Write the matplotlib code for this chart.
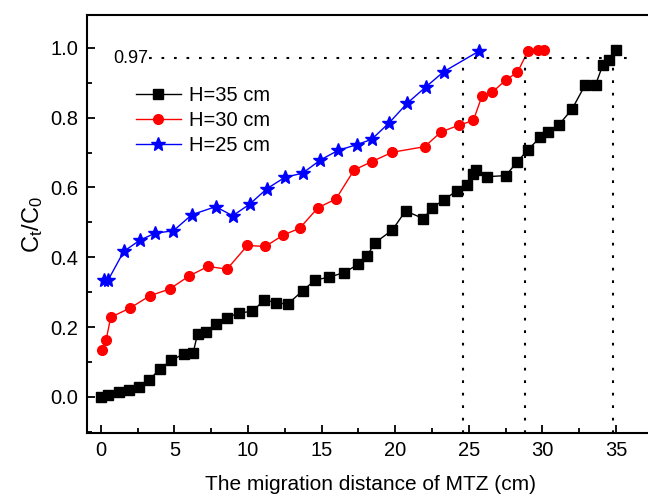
import numpy as np
import matplotlib
matplotlib.use('Agg')
import matplotlib.pyplot as plt
from matplotlib.ticker import MultipleLocator

plt.rcParams['font.family'] = ['Liberation Sans', 'DejaVu Sans']
plt.rcParams['mathtext.default'] = 'regular'

# H = 35 cm
x35 = [0.0, 0.5, 1.24, 1.9, 2.6, 3.3, 4.0, 4.8, 5.66, 6.27, 6.57, 7.15, 7.8, 8.6, 9.4,
       10.3, 11.1, 11.9, 12.7, 13.7, 14.56, 15.5, 16.5, 17.5, 18.1, 18.6, 19.8, 20.7,
       21.9, 22.5, 23.3, 24.2, 24.9, 25.25, 25.5, 26.2, 27.5, 28.3, 29.0, 29.86, 30.4,
       31.1, 32.0, 32.9, 33.6, 34.1, 34.5, 35.0]
y35 = [0.0, 0.005, 0.014, 0.019, 0.028, 0.049, 0.080, 0.105, 0.124, 0.126, 0.181, 0.186,
       0.208, 0.227, 0.241, 0.245, 0.278, 0.270, 0.266, 0.304, 0.335, 0.343, 0.356, 0.380,
       0.405, 0.441, 0.478, 0.533, 0.511, 0.541, 0.565, 0.591, 0.607, 0.639, 0.650, 0.631,
       0.634, 0.674, 0.708, 0.744, 0.760, 0.779, 0.824, 0.894, 0.894, 0.951, 0.964, 0.995]

# H = 30 cm
x30 = [0.1, 0.36, 0.67, 2.0, 3.34, 4.67, 5.98, 7.28, 8.57, 9.96, 11.17, 12.4, 13.5, 14.75,
       15.97, 17.2, 18.4, 19.8, 22.0, 23.1, 24.3, 25.3, 25.9, 26.6, 27.5, 28.3, 29.0, 29.7, 30.1]
y30 = [0.135, 0.163, 0.228, 0.255, 0.290, 0.309, 0.346, 0.374, 0.366, 0.434, 0.431, 0.464,
       0.483, 0.542, 0.567, 0.650, 0.674, 0.701, 0.717, 0.759, 0.778, 0.792, 0.863, 0.873,
       0.908, 0.930, 0.990, 0.994, 0.994]

# H = 25 cm
x25 = [0.2, 0.5, 1.56, 2.65, 3.68, 4.93, 6.18, 7.8, 8.96, 10.1, 11.3, 12.5, 13.7, 14.92,
       16.1, 17.4, 18.4, 19.6, 20.8, 22.1, 23.3, 25.7]
y25 = [0.335, 0.335, 0.417, 0.449, 0.469, 0.476, 0.522, 0.545, 0.519, 0.552, 0.597, 0.629,
       0.641, 0.679, 0.706, 0.723, 0.738, 0.786, 0.841, 0.889, 0.932, 0.991]

# breakthrough level and the distances where each curve reaches it
c_level = 0.97
x_level = [24.6, 28.8, 34.8]

fig = plt.figure(figsize=(6.48, 4.97), dpi=100)
ax = fig.add_axes([0.134, 0.129, 0.877, 0.84])

ax.plot(x35, y35, '-s', color='black', lw=1, ms=7.5, label='H=35 cm')
ax.plot(x30, y30, '-o', color='red', lw=1, ms=7, label='H=30 cm')
ax.plot(x25, y25, '-*', color='blue', lw=1, ms=10.5, label='H=25 cm')

dots = (0, (1.3, 4.7))
ax.plot([3.3, 35.9], [c_level, c_level], color='black', lw=1.5, ls=dots)
for xv in x_level:
    ax.plot([xv, xv], [-0.103, c_level], color='black', lw=1.5, ls=dots)
ax.text(3.2, c_level, '0.97', fontsize=13, ha='right', va='center')

ax.set_xlim(-0.95, 37.65)
ax.set_ylim(-0.103, 1.093)
ax.xaxis.set_major_locator(MultipleLocator(5))
ax.xaxis.set_minor_locator(MultipleLocator(2.5))
ax.yaxis.set_major_locator(MultipleLocator(0.2))
ax.yaxis.set_minor_locator(MultipleLocator(0.1))
ax.yaxis.set_major_formatter(plt.FormatStrFormatter('%.1f'))
ax.tick_params(which='major', direction='in', length=6, width=1.3, labelsize=14.5, pad=6)
ax.tick_params(which='minor', direction='in', length=3.5, width=1.3)
for s in ax.spines.values():
    s.set_linewidth(1.5)

ax.set_xlabel('The migration distance of MTZ (cm)', fontsize=15, labelpad=11)
ax.set_ylabel('$C_t/C_0$', fontsize=17, labelpad=4)

ax.legend(loc='upper left', bbox_to_anchor=(0.055, 0.875), frameon=False, fontsize=14.5,
          handlelength=2.2, handletextpad=0.4, labelspacing=0.3)

fig.savefig('out.png', dpi=100)
